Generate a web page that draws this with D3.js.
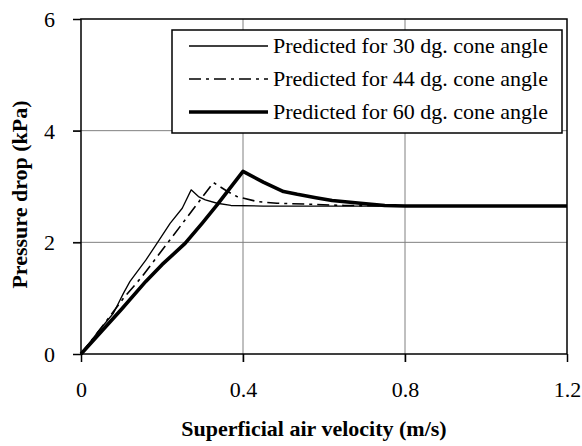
<!DOCTYPE html>
<meta charset="utf-8">
<style>
html, body { margin: 0; background: #fff; }
svg { display: block; font-family: "Liberation Serif", "Times New Roman", serif; }
.grid line { stroke: #808080; stroke-width: 1; }
.tick-label { font-size: 22px; fill: #000; }
.axis-title { font-size: 22px; font-weight: bold; fill: #000; }
.legend text { font-size: 22px; fill: #000; }
</style>
<body>
<svg id="chart" width="582" height="446"></svg>
</body>
<script src="https://cdn.jsdelivr.net/npm/d3@7"></script>
<script>

// data
var xTicks = [0, 0.4, 0.8, 1.2]
var yTicks = [0, 2, 4, 6]

var x30 = [0, 0.04, 0.08, 0.105, 0.121, 0.16, 0.19, 0.22, 0.25, 0.272, 0.29, 0.307, 0.336, 0.37, 0.45, 0.6, 0.8, 1.0, 1.2]
var y30 = [0, 0.38, 0.73, 1.09, 1.30, 1.68, 2.01, 2.34, 2.61, 2.94, 2.82, 2.76, 2.70, 2.66, 2.65, 2.65, 2.65, 2.65, 2.65]

var x44 = [0, 0.05, 0.105, 0.15, 0.216, 0.282, 0.327, 0.36, 0.385, 0.435, 0.484, 0.575, 0.65, 0.8, 1.0, 1.2]
var y44 = [0, 0.47, 1.0, 1.38, 2.01, 2.64, 3.07, 2.92, 2.82, 2.73, 2.70, 2.68, 2.66, 2.65, 2.65, 2.65]

var x60 = [0, 0.1, 0.16, 0.2, 0.257, 0.3, 0.336, 0.4, 0.45, 0.5, 0.534, 0.58, 0.62, 0.69, 0.75, 0.8, 1.0, 1.2]
var y60 = [0, 0.80, 1.30, 1.60, 1.98, 2.35, 2.67, 3.27, 3.08, 2.91, 2.86, 2.80, 2.75, 2.70, 2.66, 2.65, 2.65, 2.65]

var seriesNames = ["Predicted for 30 dg. cone angle", "Predicted for 44 dg. cone angle", "Predicted for 60 dg. cone angle"]

var series = [
  { name: seriesNames[0], xs: x30, ys: y30, width: 1.3, dash: null },
  { name: seriesNames[1], xs: x44, ys: y44, width: 1.6, dash: "12,5,3,5" },
  { name: seriesNames[2], xs: x60, ys: y60, width: 3.6, dash: null }
]

var svg = d3.select("#chart")
var plotL = 81, plotR = 567, plotT = 19, plotB = 354

var x = d3.scaleLinear().domain([0, 1.2]).range([plotL, plotR])
var y = d3.scaleLinear().domain([0, 6]).range([plotB, plotT])

// grid
var grid = svg.append("g").attr("class", "grid")
grid.selectAll(".gx").data(xTicks.slice(1, -1)).enter().append("line")
    .attr("x1", function(d) { return x(d) }).attr("x2", function(d) { return x(d) })
    .attr("y1", plotT).attr("y2", plotB + 8)
grid.selectAll(".gy").data(yTicks.slice(1, -1)).enter().append("line")
    .attr("x1", plotL - 8).attr("x2", plotR)
    .attr("y1", function(d) { return y(d) }).attr("y2", function(d) { return y(d) })

// frame
svg.append("rect")
    .attr("x", plotL).attr("y", plotT)
    .attr("width", plotR - plotL).attr("height", plotB - plotT)
    .attr("fill", "none").attr("stroke", "#000").attr("stroke-width", 1.5)

// axes
var xAxis = svg.append("g")
    .attr("transform", "translate(0," + plotB + ")")
    .call(d3.axisBottom(x).tickValues(xTicks).tickSize(8).tickFormat(d3.format("")))
var yAxis = svg.append("g")
    .attr("transform", "translate(" + plotL + ",0)")
    .call(d3.axisLeft(y).tickValues(yTicks).tickSize(8).tickFormat(d3.format("d")))

xAxis.select(".domain").remove()
yAxis.select(".domain").remove()
xAxis.selectAll(".tick line").attr("stroke", "#000").attr("stroke-width", 1.5)
yAxis.selectAll(".tick line").attr("stroke", "#000").attr("stroke-width", 1.5)
xAxis.selectAll(".tick text").attr("class", "tick-label").attr("dy", null).attr("y", 43)
    .style("font-size", "22px").style("font-family", "Liberation Serif, serif")
yAxis.selectAll(".tick text").attr("class", "tick-label").attr("x", -26).attr("dy", "0.34em")
    .style("font-size", "22px").style("font-family", "Liberation Serif, serif")

// lines
var line = d3.line()
    .x(function(d) { return x(d[0]) })
    .y(function(d) { return y(d[1]) })

svg.append("g").selectAll("path").data(series).enter().append("path")
    .attr("d", function(s) { return line(d3.zip(s.xs, s.ys)) })
    .attr("fill", "none")
    .attr("stroke", "#000")
    .attr("stroke-width", function(s) { return s.width })
    .attr("stroke-dasharray", function(s) { return s.dash })
    .attr("stroke-linejoin", "round")

// legend
var legend = svg.append("g").attr("class", "legend")
legend.append("rect")
    .attr("x", 172).attr("y", 30).attr("width", 390).attr("height", 103)
    .attr("fill", "#fff").attr("stroke", "#000").attr("stroke-width", 1.5)

var rows = legend.selectAll(".row").data(series).enter().append("g")
    .attr("transform", function(d, i) { return "translate(0," + (46 + i * 33) + ")" })
rows.append("line")
    .attr("x1", 189).attr("x2", 268)
    .attr("stroke", "#000")
    .attr("stroke-width", function(s) { return s.width })
    .attr("stroke-dasharray", function(s) { return s.dash })
rows.append("text")
    .attr("x", 273).attr("dy", "0.34em")
    .text(function(s) { return s.name })

// axis titles
svg.append("text").attr("class", "axis-title")
    .attr("x", (plotL + plotR) / 2 - 10).attr("y", 436)
    .attr("text-anchor", "middle")
    .text("Superficial air velocity (m/s)")

svg.append("text").attr("class", "axis-title")
    .attr("transform", "translate(27," + ((plotT + plotB) / 2 + 8) + ") rotate(-90)")
    .attr("text-anchor", "middle")
    .text("Pressure drop (kPa)")

</script>
